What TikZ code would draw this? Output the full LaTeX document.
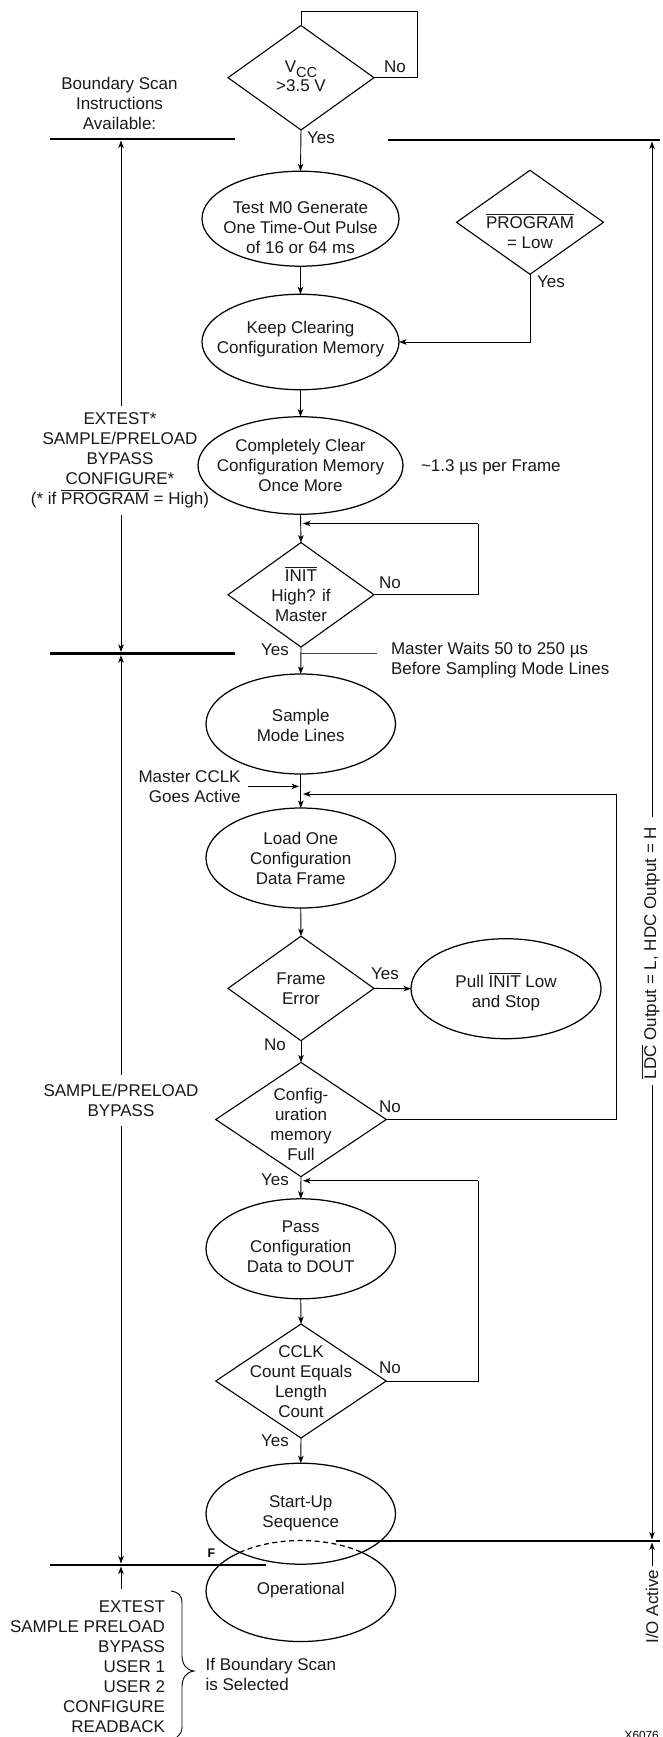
\documentclass[tikz,border=0pt]{standalone}
\usepackage{fontspec}
\setmainfont{Liberation Sans}
\usetikzlibrary{shapes.geometric,arrows.meta}
\newcommand\ovl[1]{\leavevmode\smash{\vbox{\hrule height .9pt \kern 1.6pt \hbox{#1}}}}
\tikzset{
  x=1pt,y=-1pt,
  txt/.style={font=\fontsize{17}{20}\selectfont,align=center,inner sep=0pt,outer sep=0pt,text=black!90},
  dia/.style={diamond,draw,line width=1.1pt,inner sep=0pt,outer sep=0pt,aspect=1.4},
  ell/.style={ellipse,draw,line width=1.25pt,inner sep=0pt,outer sep=0pt,minimum width=189.5pt,minimum height=100pt},
  conn/.style={line width=.9pt},
  arr/.style={conn,-{Stealth[length=7.5pt,width=5.5pt,inset=2pt]}},
  thickbar/.style={line width=2.4pt},
}
\begin{document}
\begin{tikzpicture}
\useasboundingbox (0,0) rectangle (662,1737);
\fill[white] (0,0) rectangle (662,1737);

% decision and process shapes
\node[dia,minimum width=146pt,minimum height=104.5pt,label={[txt,yshift=1pt]center:{V\raisebox{-4.5pt}{\fontsize{14.5}{14.5}\selectfont CC}\\[-1pt]>3.5 V}}] (d1) at (301,77.7) {};
\node[ell,minimum width=197pt,minimum height=95pt,label={[txt,yshift=-9pt]center:{Test M0 Generate\\One Time-Out Pulse\\of 16 or 64 ms}}] (e1) at (300.5,218.7) {};
\node[dia,minimum width=147pt,minimum height=104pt,label={[txt,yshift=-16pt]center:{\ovl{PROGRAM}\\= Low}}] (d2) at (530,222.3) {};
\node[ell,minimum width=197pt,minimum height=95.5pt,label={[txt,yshift=2.5pt]center:{Keep Clearing\\Configuration Memory}}] (e2) at (300.5,342) {};
\node[ell,minimum width=205pt,minimum height=97.5pt,label={[txt]center:{Completely Clear\\Configuration Memory\\Once More}}] (e3) at (300.5,465.5) {};
\node[dia,minimum width=146pt,minimum height=104.5pt,label={[txt,yshift=-6.5pt]center:{\ovl{INIT}\\High? if\\Master}}] (d3) at (301,594.8) {};
\node[ell,label={[txt,yshift=-1pt]center:{Sample\\Mode Lines}}] (e4) at (300.75,724) {};
\node[ell,label={[txt]center:{Load One\\Configuration\\Data Frame}}] (e5) at (300.75,858) {};
\node[dia,minimum width=146pt,minimum height=104.5pt,label={[txt]center:{Frame\\Error}}] (d4) at (301,988.4) {};
\node[ell,minimum width=190pt,label={[txt,yshift=-4pt]center:{Pull \ovl{INIT} Low\\and Stop}}] (e6) at (506,988.7) {};
\node[dia,minimum width=170.5pt,minimum height=114.2pt,label={[txt,yshift=-4.5pt]center:{Config-\\uration\\memory\\Full}}] (d5) at (301,1119.5) {};
\node[ell,label={[txt,yshift=2pt]center:{Pass\\Configuration\\Data to DOUT}}] (e7) at (300.75,1248.8) {};
\node[dia,minimum width=170.5pt,minimum height=114pt,label={[txt,yshift=-1pt]center:{CCLK\\Count Equals\\Length\\Count}}] (d6) at (301,1381) {};
\node[ell,minimum height=101pt,label={[txt]center:{Start-Up\\Sequence}}] (e8) at (300.75,1513.7) {};
\node[ellipse,inner sep=0pt,outer sep=0pt,minimum width=189.5pt,minimum height=101pt,label={[txt,yshift=1pt]center:{Operational}}] (e9) at (300.75,1591) {};
\draw[line width=1.25pt] ([shift={(-61,-38.6)}]e9.center) arc[start angle=130.1,end angle=409.9,x radius=94.75pt,y radius=50.5pt];
\draw[line width=1.25pt,dashed,dash pattern=on 5pt off 3.5pt] ([shift={(-61,-38.6)}]e9.center) arc[start angle=130.1,end angle=49.9,x radius=94.75pt,y radius=50.5pt];

% free texts
\node[txt] (tbs) at (119.5,103.5) {Boundary Scan\\Instructions\\Available:};
\node[txt] (tex) at (120,460.5) {EXTEST*\\SAMPLE/PRELOAD\\BYPASS\\CONFIGURE*\\(* if \ovl{PROGRAM} = High)};
\node[txt,anchor=west] (tfr) at (421,467) {\char"007E 1.3 µs per Frame};
\node[txt,align=left,anchor=west] (tmw) at (391,660) {Master Waits 50 to 250 µs\\Before Sampling Mode Lines};
\node[txt,align=right,anchor=east] (tcc) at (240.6,786.5) {Master CCLK\\Goes Active};
\node[txt] (tsp) at (121,1100.5) {SAMPLE/PRELOAD\\BYPASS};
\node[txt,align=right,anchor=east] (tls) at (165,1667) {EXTEST\\SAMPLE PRELOAD\\BYPASS\\USER 1\\USER 2\\CONFIGURE\\READBACK};
\node[txt,align=left,anchor=west] (tif) at (205.6,1674) {If Boundary Scan\\is Selected};
\node[txt,rotate=90] (tld) at (652,953) {\ovl{LDC} Output = L, HDC Output = H};
\node[txt,rotate=90] (tio) at (652,1606.7) {I/O Active};
\node[font=\bfseries\fontsize{12.5}{14}\selectfont,inner sep=0pt] (tf) at (211.5,1553) {F};
\begin{scope}
\clip (0,0) rectangle (662,1737);
\node[font=\fontsize{11.8}{13}\selectfont,inner sep=0pt,anchor=base east] (tx) at (659,1739.5) {X6076};
\end{scope}

% branch labels
\node[txt] (y1) at (321,137.6) {Yes};
\node[txt] (n1) at (395,66.6) {No};
\node[txt] (y2) at (551,282) {Yes};
\node[txt] (n3) at (390,583) {No};
\node[txt] (y3) at (275,650) {Yes};
\node[txt] (y4) at (385,973.6) {Yes};
\node[txt] (n4) at (275,1044.7) {No};
\node[txt] (n5) at (390,1106.5) {No};
\node[txt] (y5) at (275,1180) {Yes};
\node[txt] (n6) at (390,1368) {No};
\node[txt] (y6) at (275,1440.5) {Yes};

% helper points
\coordinate (l1) at (417,11.5);
\coordinate (jd3) at (303,523.5);
\coordinate (r3) at (478,523.5);
\coordinate (jl) at (303,794);
\coordinate (r5) at (616,794);
\coordinate (jp) at (303,1180.7);
\coordinate (r6) at (478,1180.7);
\coordinate (m1) at (248,786.4);
\coordinate (m2) at (299,786.4);
\coordinate (w1) at (301,653.6);
\coordinate (w2) at (377,653.6);

% flow connectors
\draw[conn] (d1.east) -| (l1) -| (d1.north);
\draw[arr] (d1.south) -- (e1.north);
\draw[arr] (e1.south) -- (e2.north);
\draw[arr] (d2.south) |- (e2.east);
\draw[arr] (e2.south) -- (e3.north);
\draw[arr] (e3.south) -- (d3.north);
\draw[conn] (d3.east) -| (r3);
\draw[arr] (r3) -- (jd3);
\draw[arr] (d3.south) -- (e4.north);
\draw[line width=1.3pt,black!70] (w1) -- (w2);
\draw[arr] (e4.south) -- (e5.north);
\draw[arr] (m1) -- (m2);
\draw[conn] (d5.east) -| (r5);
\draw[arr] (r5) -- (jl);
\draw[arr] (e5.south) -- (d4.north);
\draw[arr] (d4.east) -- (e6.west);
\draw[arr] (d4.south) -- (d5.north);
\draw[arr] (d5.south) -- (e7.north);
\draw[conn] (d6.east) -| (r6);
\draw[arr] (r6) -- (jp);
\draw[arr] (e7.south) -- (d6.north);
\draw[arr] (d6.south) -- (e8.north);

% thick bars
\coordinate (b1l) at (50,139); \coordinate (b1m) at (235,139);
\coordinate (b1r) at (387.5,140); \coordinate (b1e) at (660,140);
\coordinate (b2l) at (50,653.6); \coordinate (b2m) at (235,653.6);
\coordinate (b3r) at (335.6,1541); \coordinate (b3e) at (660,1541);
\coordinate (b4l) at (50,1565); \coordinate (b4m) at (266,1565);
\draw[thickbar] (b1l) -- (b1m);
\draw[thickbar] (b1r) -- (b1e);
\draw[thickbar] (b2l) -- (b2m);
\draw[thickbar] (b3r) -- (b3e);
\draw[thickbar] (b4l) -- (b4m);

% left span arrows
\coordinate (a1) at (121,406); \coordinate (a1t) at (121,140.5);
\coordinate (a2) at (121,515); \coordinate (a2t) at (121,652);
\coordinate (a3) at (121,1075); \coordinate (a3t) at (121,655.2);
\coordinate (a4) at (121,1125.7); \coordinate (a4t) at (121,1563.5);
\coordinate (a5) at (121,1589); \coordinate (a5t) at (121,1566.5);
\draw[arr] (a1) -- (a1t);
\draw[arr] (a2) -- (a2t);
\draw[arr] (a3) -- (a3t);
\draw[arr] (a4) -- (a4t);
\draw[arr] (a5) -- (a5t);

% right span arrows
\coordinate (c1) at (652,817); \coordinate (c1t) at (652,141.5);
\coordinate (c2) at (652,1085); \coordinate (c2t) at (652,1539.5);
\coordinate (c3) at (652,1566); \coordinate (c3t) at (652,1542.5);
\draw[arr] (c1) -- (c1t);
\draw[arr] (c2) -- (c2t);
\draw[arr] (c3) -- (c3t);

% brace
\draw[line width=.9pt] (171,1591) .. controls (178,1592) and (182,1595) .. (182,1603)
  -- (182,1655) .. controls (182,1664) and (186,1670) .. (194,1671)
  .. controls (186,1672) and (182,1678) .. (182,1687)
  -- (182,1727) .. controls (182,1732) and (180,1735) .. (177,1737);
\end{tikzpicture}
\end{document}
